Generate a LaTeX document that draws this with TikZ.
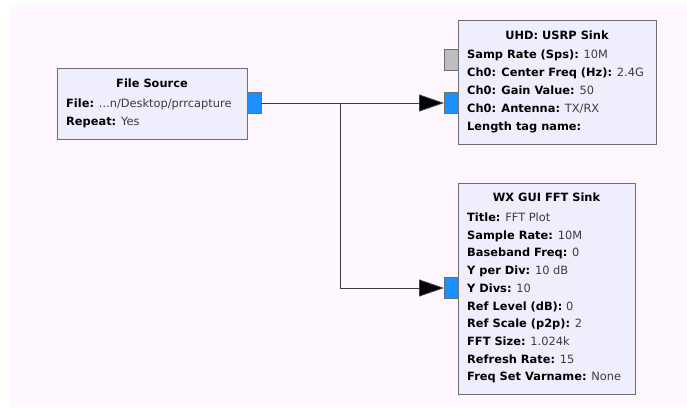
\documentclass[tikz,border=0pt]{standalone}
\usepackage{fontspec}
\setmainfont{DejaVu Sans}
\usetikzlibrary{arrows.meta}
\definecolor{bgpink}{RGB}{255,247,255}
\definecolor{blkfill}{RGB}{238,238,255}
\definecolor{blkline}{RGB}{110,110,110}
\definecolor{portblue}{RGB}{28,144,255}
\definecolor{portgray}{RGB}{190,190,190}
\definecolor{valgray}{RGB}{60,60,60}
\definecolor{wire}{RGB}{60,60,60}
\newcommand{\kv}[2]{{\bfseries #1} \textcolor{valgray}{#2}}
\tikzset{
  blk/.style={draw=blkline, fill=blkfill, line width=0.9pt, inner sep=0pt, outer sep=0pt, anchor=north west},
  portin/.style={draw=blkline, fill=portblue, line width=0.8pt, inner sep=0pt, outer sep=0pt, minimum width=14pt, minimum height=21pt, anchor=north west},
  portoff/.style={portin, fill=portgray},
  txt/.style={anchor=base west, inner sep=0pt, font=\fontsize{11.4}{14}\selectfont},
  ttl/.style={anchor=base, inner sep=0pt, font=\fontsize{11.4}{14}\selectfont\bfseries},
  wireline/.style={draw=wire, line width=0.9pt},
  tip/.style={-{Triangle[length=25pt,width=17pt,fill=black]}}
}
\begin{document}
\begin{tikzpicture}[x=1pt,y=-1pt]
\useasboundingbox (0,0) rectangle (687,407);
\fill[bgpink] (10,5) rectangle (687,407);

% File Source
\node[blk, minimum width=190pt, minimum height=71pt] (fs) at (57,68) {};
\node[portin] (fsout) at (247,92.5) {};
\node[ttl] (fst) at (152,87.5) {File Source};
\node[txt] (fs1) at (66,107.5) {\kv{File:}{...n/Desktop/prrcapture}};
\node[txt] (fs2) at (66,125.5) {\kv{Repeat:}{Yes}};

% UHD: USRP Sink
\node[blk, minimum width=198pt, minimum height=124pt] (uhd) at (458,20) {};
\node[portoff] (uhdmsg) at (444,49) {};
\node[portin] (uhdin) at (444,92.5) {};
\node[ttl] (uhdt) at (557,39.5) {UHD: USRP Sink};
\node[txt] (u1) at (467,58.5) {\kv{Samp Rate (Sps):}{10M}};
\node[txt] (u2) at (467,76.5) {\kv{Ch0: Center Freq (Hz):}{2.4G}};
\node[txt] (u3) at (467,94.5) {\kv{Ch0: Gain Value:}{50}};
\node[txt] (u4) at (467,112.5) {\kv{Ch0: Antenna:}{TX/RX}};
\node[txt] (u5) at (467,130.5) {\kv{Length tag name:}{}};

% WX GUI FFT Sink
\node[blk, minimum width=177pt, minimum height=211pt] (fft) at (458,183) {};
\node[portin] (fftin) at (444,277.5) {};
\node[ttl] (fftt) at (546.5,201.5) {WX GUI FFT Sink};
\node[txt] (f1) at (467,221.5) {\kv{Title:}{FFT Plot}};
\node[txt] (f2) at (467,239.2) {\kv{Sample Rate:}{10M}};
\node[txt] (f3) at (467,256.9) {\kv{Baseband Freq:}{0}};
\node[txt] (f4) at (467,274.6) {\kv{Y per Div:}{10 dB}};
\node[txt] (f5) at (467,292.3) {\kv{Y Divs:}{10}};
\node[txt] (f6) at (467,310.0) {\kv{Ref Level (dB):}{0}};
\node[txt] (f7) at (467,327.7) {\kv{Ref Scale (p2p):}{2}};
\node[txt] (f8) at (467,345.4) {\kv{FFT Size:}{1.024k}};
\node[txt] (f9) at (467,363.1) {\kv{Refresh Rate:}{15}};
\node[txt] (f10) at (467,380.8) {\kv{Freq Set Varname:}{None}};

% connections
\coordinate (j) at (340,103);
\draw[wireline, tip] (fsout.east) -- (uhdin.west);
\draw[wireline, tip] (j) |- (fftin.west);
\end{tikzpicture}
\end{document}
